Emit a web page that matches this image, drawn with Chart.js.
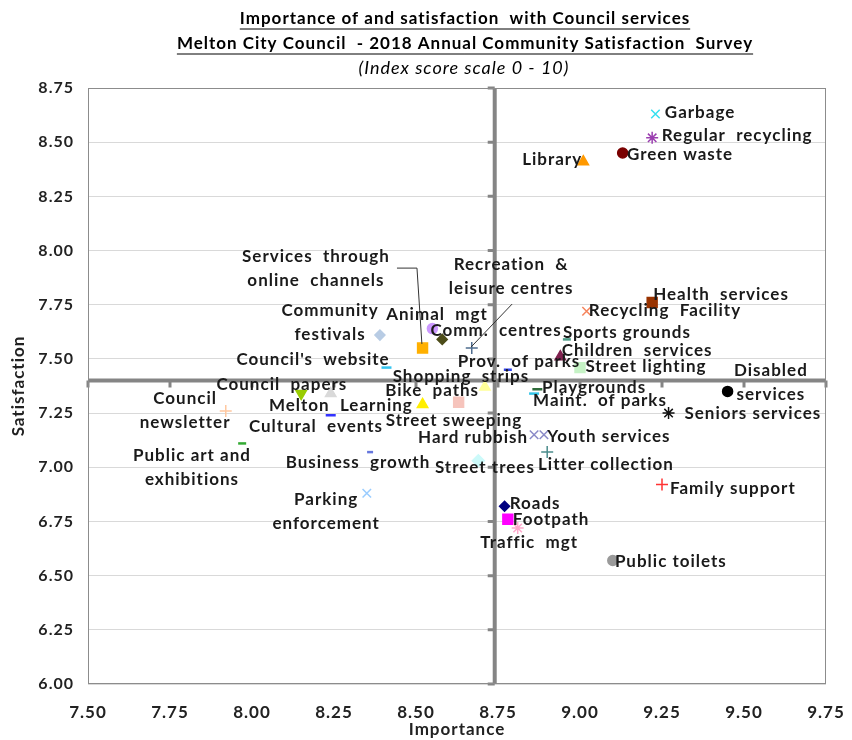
<!DOCTYPE html>
<html>
<head>
<meta charset="utf-8">
<script src="https://cdn.jsdelivr.net/npm/chart.js@4.4.1/dist/chart.umd.min.js"></script>
<style>
  body { margin: 0; background: #fff; }
</style>
</head>
<body>
<canvas id="quadChart" width="852" height="740"></canvas>
<script>
// Services and their index scores (importance, satisfaction)
const services = [
  'Garbage', 'Regular recycling', 'Green waste', 'Library', 'Health services',
  'Recycling Facility', 'Sports grounds', 'Children services', 'Street lighting', 'Disabled services',
  'Seniors services', 'Playgrounds', 'Maint. of parks', 'Prov. of parks', 'Shopping strips',
  'Bike paths', 'Street sweeping', 'Hard rubbish', 'Youth services', 'Litter collection',
  'Family support', 'Street trees', 'Roads', 'Footpath', 'Traffic mgt',
  'Public toilets', "Council's website", 'Community festivals', 'Services through online channels', 'Animal mgt',
  'Comm. centres', 'Recreation & leisure centres', 'Council papers', 'Melton Learning', 'Cultural events',
  'Council newsletter', 'Public art and exhibitions', 'Business growth', 'Parking enforcement'
];
const importance = [
  9.23, 9.22, 9.13, 9.01, 9.22,
  9.02, 8.96, 8.94, 9.00, 9.45,
  9.27, 8.87, 8.86, 8.78, 8.71,
  8.63, 8.52, 8.86, 8.89, 8.90,
  9.25, 8.69, 8.77, 8.78, 8.81,
  9.10, 8.41, 8.39, 8.52, 8.55,
  8.58, 8.67, 8.15, 8.24, 8.24,
  7.92, 7.97, 8.36, 8.35
];
const satisfaction = [
  8.63, 8.52, 8.45, 8.41, 7.76,
  7.72, 7.59, 7.51, 7.46, 7.35,
  7.25, 7.36, 7.34, 7.45, 7.37,
  7.30, 7.29, 7.15, 7.15, 7.07,
  6.92, 7.03, 6.82, 6.76, 6.72,
  6.57, 7.46, 7.61, 7.55, 7.64,
  7.59, 7.55, 7.34, 7.34, 7.24,
  7.26, 7.11, 7.07, 6.88
];
// Average scores where the quadrant lines cross
const avgImportance = 8.74;
const avgSatisfaction = 7.40;

// Marker style per service: [pointStyle, colour, radius, rotation]
const markers = [
  ['crossRot', '#33e0f0', 6], ['star', '#9b3fb0', 6], ['circle', '#7a0000', 5], ['triangle', '#ff9900', 6], ['rect', '#993300', 7],
  ['crossRot', '#f5845c', 6], ['line', '#4d9c88', 4], ['triangle', '#80204f', 6], ['rect', '#c6f3c6', 7], ['circle', '#000000', 5],
  ['star', '#111111', 6], ['line', '#2e6b3a', 5], ['line', '#33c4e8', 5], ['line', '#3344ee', 4], ['triangle', '#ffff99', 6],
  ['rect', '#f6c4bc', 7], ['triangle', '#ffee00', 6], ['crossRot', '#8a8ac8', 6], ['crossRot', '#8a8ac8', 6], ['cross', '#4b8c8c', 6],
  ['cross', '#ff3333', 6], ['rectRot', '#ccfafa', 6], ['rectRot', '#000080', 5], ['rect', '#ff00ff', 7], ['star', '#ffa8cc', 6],
  ['circle', '#9a9a9a', 5], ['line', '#33c4f0', 5], ['rectRot', '#b8cce4', 5], ['rect', '#ffb000', 7], ['circle', '#cc99ff', 5],
  ['rectRot', '#4d4d1a', 5], ['cross', '#4f6d8f', 6], ['triangle', '#99cc00', 6, 180], ['triangle', '#d9d9d9', 6], ['line', '#3333ff', 5],
  ['cross', '#ffc8a0', 6], ['line', '#33aa33', 4], ['line', '#6677dd', 3], ['crossRot', '#99ccff', 6]
];

// Label text and where its centre sits (in axis units)
const labelSpots = [
  ['Garbage', 9.366, 8.635], ['Regular  recycling', 9.479, 8.529], ['Green waste', 9.305, 8.441],
  ['Library', 8.915, 8.418], ['Health  services', 9.43, 7.799], ['Recycling  Facility', 9.259, 7.721],
  ['Sports grounds', 9.143, 7.624], ['Children  services', 9.174, 7.541], ['Street lighting', 9.201, 7.467],
  ['Disabled\nservices', 9.582, 7.389], ['Seniors services', 9.527, 7.246], ['Playgrounds', 9.043, 7.366],
  ['Maint.  of parks', 9.061, 7.306], ['Prov.  of parks', 8.814, 7.486], ['Shopping  strips', 8.637, 7.417],
  ['Bike  paths', 8.549, 7.352], ['Street sweeping', 8.616, 7.218], ['Hard rubbish', 8.674, 7.135],
  ['Youth services', 9.088, 7.14], ['Litter collection', 9.079, 7.015], ['Family support', 9.466, 6.904],
  ['Street trees', 8.710, 6.997], ['Roads', 8.863, 6.835], ['Footpath', 8.912, 6.761],
  ['Traffic  mgt', 8.845, 6.651], ['Public toilets', 9.277, 6.563], ["Council's  website", 8.186, 7.495],
  ['Community\nfestivals', 8.238, 7.666], ['Services  through\nonline  channels', 8.195, 7.915], ['Animal  mgt', 8.564, 7.707],
  ['Comm.  centres', 8.744, 7.629], ['Recreation  &\nleisure centres', 8.79, 7.878], ['Council  papers', 8.091, 7.38],
  ['Melton  Learning', 8.271, 7.287], ['Cultural  events', 8.195, 7.19], ['Council\nnewsletter', 7.796, 7.264],
  ['Public art and\nexhibitions', 7.817, 6.997], ['Business  growth', 8.323, 7.02], ['Parking\nenforcement', 8.226, 6.794]
];
// Leader lines from two labels to their markers
const leaders = [
  [[8.442, 7.919], [8.503, 7.919], [8.518, 7.569]],
  [[8.793, 7.753], [8.668, 7.555]]
];

const crossPlugin = {
  id: 'quadrants',
  beforeDraw(chart) {
    // the original text is set wider than Lato, a little tracking helps
    chart.ctx.letterSpacing = '1px';
  },
  beforeDatasetsDraw(chart) {
    const { ctx, chartArea: a, scales: { x, y } } = chart;
    const cx = x.getPixelForValue(avgImportance);
    const cy = y.getPixelForValue(avgSatisfaction);
    ctx.save();
    ctx.strokeStyle = '#858585';
    ctx.lineWidth = 4;
    ctx.beginPath();
    ctx.moveTo(cx, a.top); ctx.lineTo(cx, a.bottom);
    ctx.moveTo(a.left, cy); ctx.lineTo(a.right, cy);
    ctx.stroke();
    // small tick stubs on the quadrant lines
    ctx.lineWidth = 3;
    ctx.beginPath();
    x.ticks.forEach(t => { const px = x.getPixelForValue(t.value); ctx.moveTo(px, cy); ctx.lineTo(px, cy + 7); });
    y.ticks.forEach(t => { const py = y.getPixelForValue(t.value); ctx.moveTo(cx, py); ctx.lineTo(cx - 7, py); });
    ctx.stroke();
    ctx.restore();
  },
  afterDatasetsDraw(chart) {
    const { ctx, chartArea: a, scales: { x, y } } = chart;
    ctx.save();
    ctx.letterSpacing = '1px';
    ctx.strokeStyle = '#8c8c8c';
    ctx.lineWidth = 1;
    ctx.strokeRect(a.left + 0.5, a.top + 0.5, a.width - 1, a.height - 1);

    ctx.strokeStyle = '#333';
    ctx.lineWidth = 1;
    leaders.forEach(pts => {
      ctx.beginPath();
      pts.forEach(([vx, vy], i) => {
        const px = x.getPixelForValue(vx), py = y.getPixelForValue(vy);
        if (i === 0) ctx.moveTo(px, py); else ctx.lineTo(px, py);
      });
      ctx.stroke();
    });

    ctx.font = 'bold 17px Lato';
    ctx.fillStyle = '#1a1a1a';
    ctx.textAlign = 'center';
    ctx.textBaseline = 'middle';
    labelSpots.forEach(([text, lx, ly]) => {
      const lines = text.split('\n');
      const px = x.getPixelForValue(lx), py = y.getPixelForValue(ly);
      lines.forEach((ln, i) => ctx.fillText(ln, px, py + (i - (lines.length - 1) / 2) * 24));
    });

    // titles
    ctx.fillStyle = '#000';
    ctx.strokeStyle = '#000';
    const titles = [
      ['Importance of and satisfaction  with Council services', 19],
      ['Melton City Council  - 2018 Annual Community Satisfaction  Survey', 44]
    ];
    ctx.font = 'bold 17px Lato';
    titles.forEach(([t, ty]) => {
      ctx.fillText(t, 465, ty);
      const w = ctx.measureText(t).width;
      ctx.beginPath();
      ctx.moveTo(465 - w / 2, ty + 10); ctx.lineTo(465 + w / 2, ty + 10);
      ctx.stroke();
    });
    ctx.font = 'italic 18px Lato';
    ctx.fillText('(Index score scale 0 - 10)', 464, 68);
    ctx.restore();
  }
};

new Chart(document.getElementById('quadChart'), {
  type: 'scatter',
  data: {
    datasets: [{
      label: 'Services',
      data: services.map((s, i) => ({ x: importance[i], y: satisfaction[i] })),
      pointStyle: markers.map(m => m[0]),
      backgroundColor: markers.map(m => m[1]),
      borderColor: markers.map(m => m[1]),
      pointRadius: markers.map(m => m[2]),
      pointRotation: markers.map(m => m[3] || 0),
      borderWidth: markers.map(m => (m[0] === 'line' ? 2.5 : 1.5))
    }]
  },
  options: {
    responsive: false,
    animation: false,
    layout: { padding: { top: 88, right: 26, left: 0, bottom: 0 } },
    plugins: {
      legend: { display: false },
      tooltip: { enabled: false }
    },
    scales: {
      x: {
        min: 7.5,
        max: 9.75,
        ticks: {
          stepSize: 0.25,
          color: '#222',
          font: { family: 'Lato', size: 17, weight: 'bold' },
          padding: 18,
          callback: v => v.toFixed(2)
        },
        grid: { display: false, drawTicks: false },
        border: { display: false },
        title: {
          display: true,
          text: 'Importance',
          color: '#222',
          font: { family: 'Lato', size: 17, weight: 'bold' },
          padding: { top: 0, bottom: 0 }
        },
        afterFit: s => { s.height = 56; s.paddingLeft = 0; s.paddingRight = 0; }
      },
      y: {
        min: 6,
        max: 8.75,
        ticks: {
          stepSize: 0.25,
          color: '#222',
          font: { family: 'Lato', size: 16, weight: 'bold' },
          padding: 14,
          callback: v => v.toFixed(2)
        },
        grid: { color: '#d9d9d9', drawTicks: false },
        border: { display: false },
        title: {
          display: true,
          text: 'Satisfaction',
          color: '#222',
          font: { family: 'Lato', size: 17, weight: 'bold' },
          padding: { top: 8, bottom: 0 }
        },
        afterFit: s => { s.width = 88; }
      }
    }
  },
  plugins: [crossPlugin]
});
</script>
</body>
</html>
